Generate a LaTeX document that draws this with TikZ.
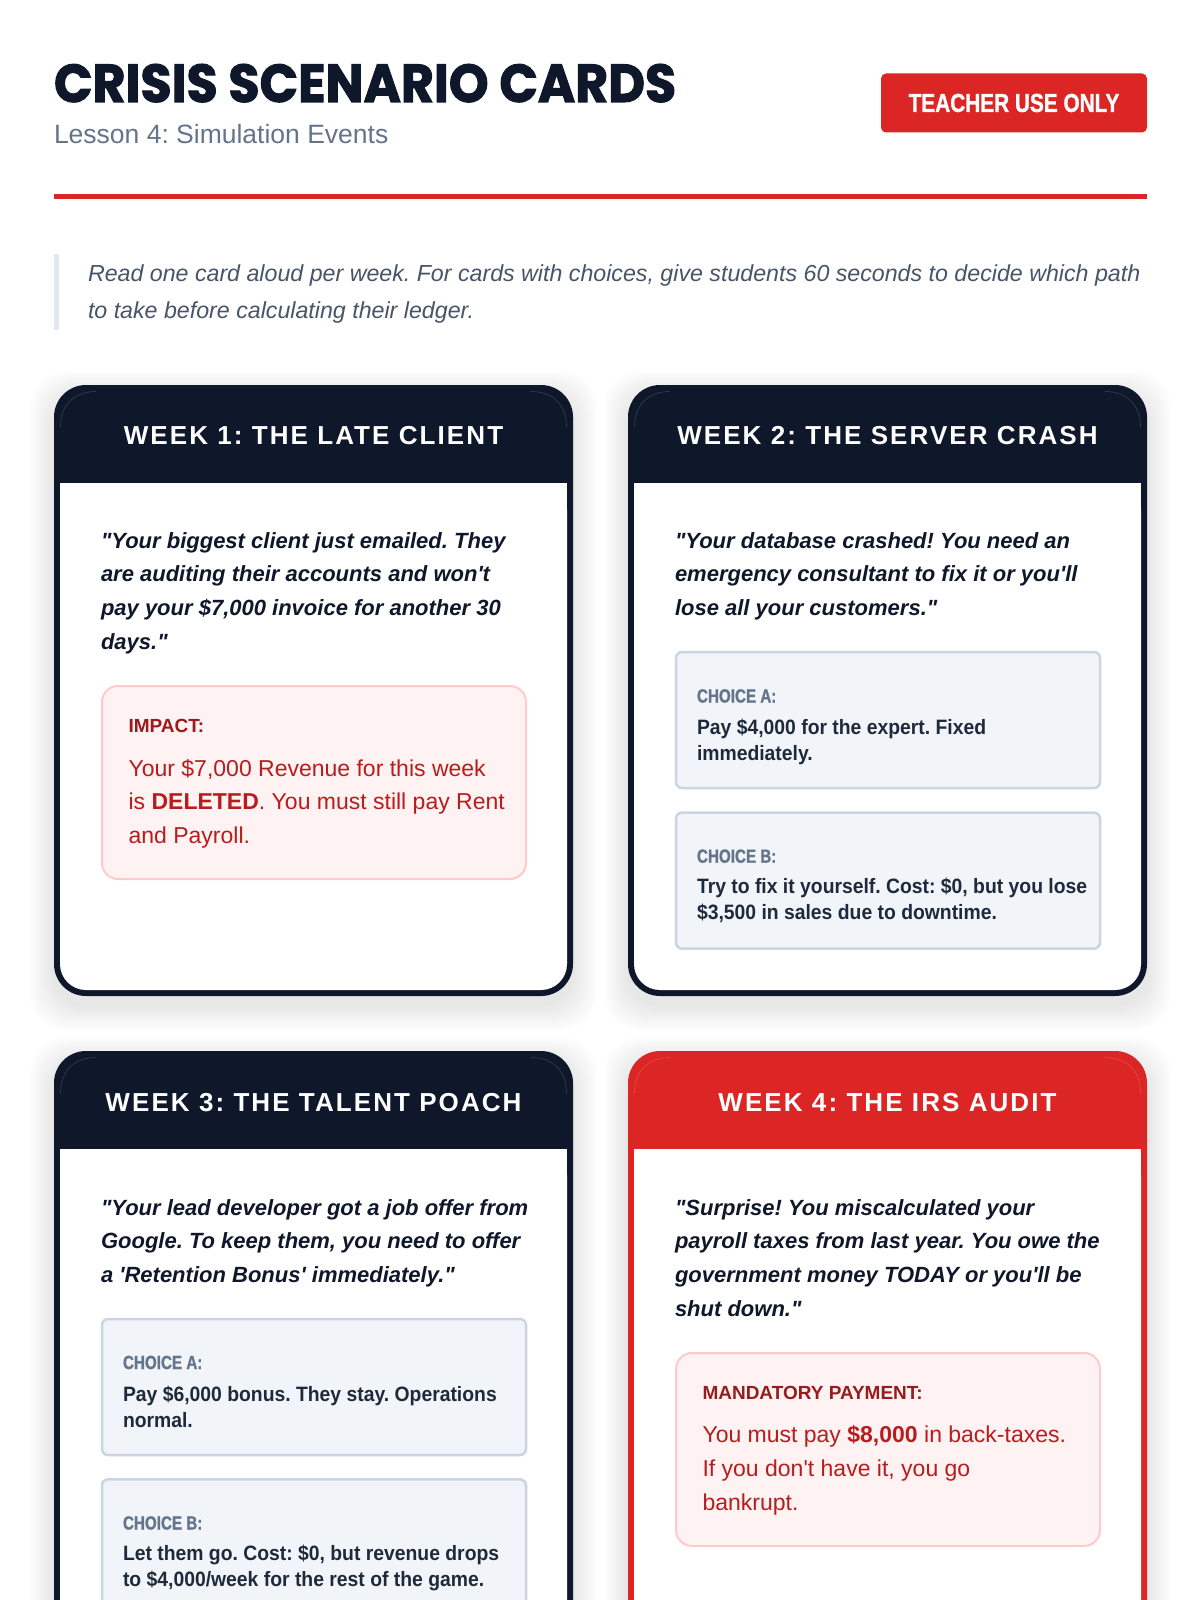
\documentclass[tikz,border=0pt]{standalone}
\usepackage{fontspec}
\usepackage{graphicx}
\frenchspacing
\newfontfamily\bodyfont{Liberation Sans}
\newfontfamily\titlefont{Poppins}[BoldFeatures={FakeBold=2}]
\newfontfamily\headfont{Liberation Sans}[LetterSpace=8]
\newfontfamily\choicefont{Liberation Sans}[FakeStretch=0.93]
\newfontfamily\badgefont{Liberation Sans}[FakeStretch=0.8, BoldFeatures={FakeBold=1}]
\definecolor{navy}{HTML}{0F172A}
\definecolor{alertred}{HTML}{DC2626}
\definecolor{slate}{HTML}{64748B}
\definecolor{quotegray}{HTML}{475569}
\definecolor{barcol}{HTML}{E2E8F0}
\definecolor{impfill}{HTML}{FEF2F2}
\definecolor{impborder}{HTML}{FECACA}
\definecolor{labelred}{HTML}{991B1B}
\definecolor{bodyred}{HTML}{B91C1C}
\definecolor{choicefill}{HTML}{F1F5F9}
\definecolor{choiceborder}{HTML}{CBD5E1}
\definecolor{ink}{HTML}{1E293B}
\newcommand\crisiscard[6]{%
  \foreach \s in {1,...,12}{%
    \fill[black, opacity=0.009, rounded corners=36pt] ({#1-2*\s},{#2-2*\s+10}) rectangle ({#3+2*\s},{#4+2*\s+10});
  }
  \fill[#6, rounded corners=32pt] (#1,#2) rectangle (#3,#4);
  \fill[white, rounded corners=26pt] (#1+6,#5) rectangle (#3-6,#4-6);
  \fill[white] (#1+6,#5) rectangle (#3-6,#5+40);
  \draw[white, opacity=0.15, line width=0.7pt] (#1+6.5,#2+42) .. controls (#1+6.5,#2+20) and (#1+20,#2+6.5) .. (#1+42,#2+6.5);
  \draw[white, opacity=0.15, line width=0.7pt] (#3-6.5,#2+42) .. controls (#3-6.5,#2+20) and (#3-20,#2+6.5) .. (#3-42,#2+6.5);
}
\tikzset{
  headtext/.style={text=white, font=\headfont\bfseries\fontsize{26}{30}\selectfont},
  quotetext/.style={anchor=base west, text=navy, font=\bodyfont\bfseries\itshape\fontsize{22}{33.7}\selectfont},
  impactbox/.style={fill=impfill, draw=impborder, line width=2pt, rounded corners=16pt, minimum width=424pt, minimum height=193pt},
  impactlabel/.style={anchor=base west, text=labelred, font=\bodyfont\bfseries\fontsize{19}{22}\selectfont},
  impacttext/.style={anchor=base west, text=bodyred, font=\bodyfont\fontsize{23}{33.7}\selectfont},
  choicebox/.style={fill=choicefill, draw=choiceborder, line width=2.5pt, rounded corners=6pt, minimum width=424pt, minimum height=136pt},
  choicelabel/.style={anchor=base west, text=slate, font=\badgefont\bfseries\fontsize{19}{22}\selectfont},
  choicetext/.style={anchor=base west, text=ink, font=\choicefont\bfseries\fontsize{20.8}{26.5}\selectfont},
  badgebox/.style={fill=alertred, rounded corners=5pt, minimum width=266pt, minimum height=59pt, text=white, font=\badgefont\bfseries\fontsize{26}{30}\selectfont},
}
\begin{document}
\begin{tikzpicture}[x=1pt, y=-1pt, every node/.append style={inner sep=0pt, outer sep=0pt}]
\useasboundingbox (0,0) rectangle (1200,1600);
\fill[white] (0,0) rectangle (1200,1600);

% header
\node[anchor=base west, text=navy] (title) at (54,102) {\resizebox{622pt}{38pt}{\titlefont\bfseries CRISIS SCENARIO CARDS}};
\node[anchor=base west, text=slate, font=\bodyfont\fontsize{26.5}{30}\selectfont] (subtitle) at (54,143) {Lesson 4: Simulation Events};
\node[badgebox] (badge) at (1014,103) {TEACHER USE ONLY};
\fill[alertred] (54,194) rectangle (1147,199);

% intro
\fill[barcol] (54,254) rectangle (59,330);
\node[anchor=base west, text=quotegray, font=\bodyfont\itshape\fontsize{23.2}{37.5}\selectfont] (intro) at (88,281)
  {\vtop{\hbox{Read one card aloud per week. For cards with choices, give students 60 seconds to decide which path}\hbox{to take before calculating their ledger.}}};

% cards
\crisiscard{54}{385}{573}{996}{483}{navy}
\crisiscard{628}{385}{1147}{996}{483}{navy}
\crisiscard{54}{1051}{573}{1720}{1149}{navy}
\crisiscard{628}{1051}{1147}{1720}{1149}{alertred}

% card 1
\node[headtext] (h1) at (313.5,436) {WEEK 1: THE LATE CLIENT};
\node[quotetext] (q1) at (101,548) {\vtop{\hbox{"Your biggest client just emailed. They}\hbox{are auditing their accounts and won't}\hbox{pay your \$7,000 invoice for another 30}\hbox{days."}}};
\node[impactbox] (imp1) at (314,782.5) {};
\node[impactlabel] (imp1l) at (128.6,732) {IMPACT:};
\node[impacttext] (imp1t) at (128.6,776) {\vtop{\hbox{Your \$7,000 Revenue for this week}\hbox{is \textbf{DELETED}. You must still pay Rent}\hbox{and Payroll.}}};

% card 2
\node[headtext] (h2) at (887.5,436) {WEEK 2: THE SERVER CRASH};
\node[quotetext] (q2) at (675,548) {\vtop{\hbox{"Your database crashed! You need an}\hbox{emergency consultant to fix it or you'll}\hbox{lose all your customers."}}};
\node[choicebox] (c2a) at (888,720) {};
\node[choicelabel] (c2al) at (697,702.5) {CHOICE A:};
\node[choicetext] (c2at) at (697,734) {\vtop{\hbox{Pay \$4,000 for the expert. Fixed}\hbox{immediately.}}};
\node[choicebox] (c2b) at (888,880.6) {};
\node[choicelabel] (c2bl) at (697,862.7) {CHOICE B:};
\node[choicetext] (c2bt) at (697,893.4) {\vtop{\hbox{Try to fix it yourself. Cost: \$0, but you lose}\hbox{\$3,500 in sales due to downtime.}}};

% card 3
\node[headtext] (h3) at (313.5,1103) {WEEK 3: THE TALENT POACH};
\node[quotetext] (q3) at (101,1215) {\vtop{\hbox{"Your lead developer got a job offer from}\hbox{Google. To keep them, you need to offer}\hbox{a 'Retention Bonus' immediately."}}};
\node[choicebox] (c3a) at (314,1387) {};
\node[choicelabel] (c3al) at (123,1369) {CHOICE A:};
\node[choicetext] (c3at) at (123,1401) {\vtop{\hbox{Pay \$6,000 bonus. They stay. Operations}\hbox{normal.}}};
\node[choicebox] (c3b) at (314,1547.4) {};
\node[choicelabel] (c3bl) at (123,1529.5) {CHOICE B:};
\node[choicetext] (c3bt) at (123,1560) {\vtop{\hbox{Let them go. Cost: \$0, but revenue drops}\hbox{to \$4,000/week for the rest of the game.}}};

% card 4
\node[headtext] (h4) at (887.5,1103) {WEEK 4: THE IRS AUDIT};
\node[quotetext] (q4) at (675,1215) {\vtop{\hbox{"Surprise! You miscalculated your}\hbox{payroll taxes from last year. You owe the}\hbox{government money TODAY or you'll be}\hbox{shut down."}}};
\node[impactbox] (imp4) at (888,1449.5) {};
\node[impactlabel] (imp4l) at (702.5,1399) {MANDATORY PAYMENT:};
\node[impacttext] (imp4t) at (702.5,1442.7) {\vtop{\hbox{You must pay \textbf{\$8,000} in back-taxes.}\hbox{If you don't have it, you go}\hbox{bankrupt.}}};
\end{tikzpicture}
\end{document}
